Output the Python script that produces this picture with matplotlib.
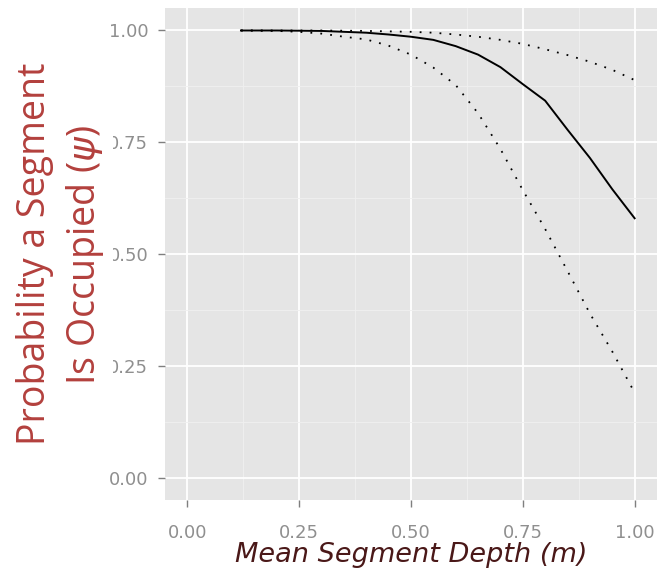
import matplotlib
matplotlib.use("Agg")
import matplotlib.pyplot as plt
from matplotlib.patches import Rectangle
from matplotlib.ticker import MultipleLocator

# Occupancy probability vs. mean segment depth (fit + bounds)
depth_fit = [0.12, 0.20, 0.30, 0.35, 0.40, 0.45, 0.50, 0.55, 0.60, 0.65,
             0.70, 0.75, 0.80, 0.85, 0.90, 0.95, 1.00]
psi_fit = [1.000, 1.000, 0.999, 0.997, 0.995, 0.991, 0.986, 0.979, 0.965, 0.946,
           0.918, 0.880, 0.843, 0.778, 0.715, 0.645, 0.580]

depth_lo = [0.12, 0.20, 0.25, 0.30, 0.35, 0.40, 0.45, 0.50, 0.55, 0.60,
            0.65, 0.70, 0.75, 0.80, 0.85, 0.90, 0.95, 1.00]
psi_lo = [1.000, 0.999, 0.997, 0.993, 0.986, 0.980, 0.966, 0.946, 0.917, 0.878,
          0.815, 0.735, 0.643, 0.556, 0.462, 0.367, 0.282, 0.190]

depth_hi = [0.12, 0.30, 0.40, 0.50, 0.55, 0.60, 0.65, 0.70, 0.75, 0.80,
            0.85, 0.90, 0.95, 1.00]
psi_hi = [1.000, 1.000, 0.999, 0.997, 0.995, 0.991, 0.986, 0.979, 0.970, 0.958,
          0.945, 0.930, 0.912, 0.889]

ticks = [0.0, 0.25, 0.5, 0.75, 1.0]
tick_labels = ["0.00", "0.25", "0.50", "0.75", "1.00"]

fig = plt.figure(figsize=(6.57, 5.8), dpi=100)
ax = fig.add_axes([0.251, 0.138, 0.749, 0.848])

# ggplot-style grey panel
ax.set_facecolor("#e5e5e5")
for s in ax.spines.values():
    s.set_visible(False)
ax.set_xlim(-0.05, 1.05)
ax.set_ylim(-0.05, 1.05)
ax.set_xticks(ticks)
ax.set_xticklabels(tick_labels)
ax.set_yticks(ticks)
ax.set_yticklabels(tick_labels)
ax.xaxis.set_minor_locator(MultipleLocator(0.125))
ax.yaxis.set_minor_locator(MultipleLocator(0.125))
ax.grid(which="major", color="white", lw=1.3)
ax.grid(which="minor", color="#f0f0f0", lw=0.6)
ax.set_axisbelow(True)
ax.tick_params(which="minor", length=0)
ax.tick_params(axis="x", which="major", color="#7f7f7f", length=5, width=1,
               pad=12, labelsize=13, labelcolor="#8f8f8f")
ax.tick_params(axis="y", which="major", color="#7f7f7f", length=5, width=1,
               pad=7, labelsize=13, labelcolor="#8f8f8f")

ax.plot(depth_fit, psi_fit, color="black", lw=1.4)
ax.plot(depth_lo, psi_lo, color="black", lw=1.3, ls=(0, (1, 4.5)))
ax.plot(depth_hi, psi_hi, color="black", lw=1.3, ls=(0, (1, 4.5)))

ax.set_xlabel("Mean Segment Depth (m)", fontsize=19.5, style="italic",
              color="#4a1818", labelpad=0)

# white block behind the y title, covers part of the tick labels
fig.patches.append(Rectangle((0.0, 0.205), 0.172, 0.715, transform=fig.transFigure,
                             facecolor="white", edgecolor="none", zorder=5))
ylab = dict(rotation=90, rotation_mode="anchor", ha="center", va="baseline",
            fontsize=27, family="Open Sans", weight="medium",
            color="#b3403d", zorder=6)
fig.text(0.0685, 0.562, "Probability a Segment", **ylab)
fig.text(0.1446, 0.560, "Is Occupied ($\\psi$)", **ylab)

fig.savefig("out.png", dpi=100)
